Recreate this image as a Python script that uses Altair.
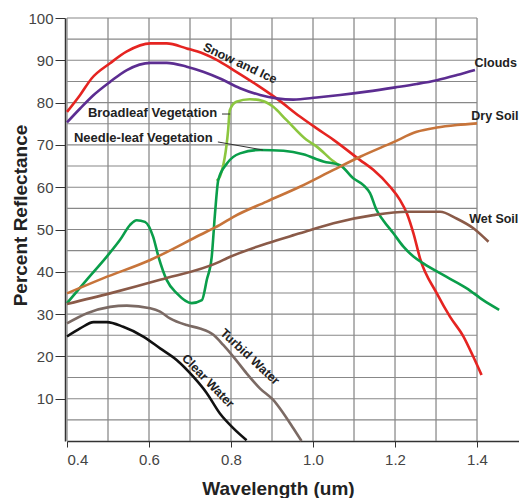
import altair as alt
import pandas as pd

# ---------------- data ----------------
snow_wl = [0.400, 0.432, 0.460, 0.505, 0.546, 0.604, 0.643, 0.692, 0.732, 0.765,
           0.806, 0.863, 0.911, 0.968, 1.009, 1.050, 1.115, 1.147, 1.188, 1.212,
           1.229, 1.245, 1.261, 1.302, 1.334, 1.367, 1.391, 1.411]
snow_r = [77.8, 81.8, 85.7, 89.3, 92.1, 94.0, 94.0, 92.8, 91.6, 90.1,
          87.7, 84.2, 81.0, 76.7, 73.9, 71.2, 66.4, 64.1, 60.1, 57.0,
          53.8, 49.1, 43.2, 34.9, 29.4, 24.7, 19.9, 15.6]

cloud_wl = [0.400, 0.432, 0.465, 0.505, 0.546, 0.604, 0.643, 0.692, 0.732, 0.773,
            0.822, 0.871, 0.911, 0.952, 1.009, 1.066, 1.131, 1.201, 1.253, 1.302,
            1.351, 1.395]
cloud_r = [75.3, 78.6, 81.8, 84.9, 87.7, 89.4, 89.4, 88.5, 87.3, 85.7,
           83.4, 81.8, 81.0, 80.7, 81.2, 81.8, 82.6, 83.6, 84.4, 85.3,
           86.5, 87.7]

broad_wl = [0.765, 0.773, 0.793, 0.797, 0.813, 0.846, 0.878, 0.903, 0.935, 0.984,
            1.009, 1.050, 1.066]
broad_r = [61.5, 62.5, 73.5, 78.2, 80.2, 80.8, 80.4, 79.0, 75.9, 71.2,
           69.6, 66.1, 65.0]

needle_wl = [0.400, 0.448, 0.497, 0.529, 0.554, 0.570, 0.590, 0.610, 0.623, 0.643,
             0.668, 0.704, 0.729, 0.741, 0.753, 0.761, 0.769, 0.790, 0.822, 0.871,
             0.928, 0.976, 1.025, 1.066, 1.098, 1.123, 1.139, 1.155, 1.171, 1.196,
             1.220, 1.245, 1.269, 1.326, 1.375, 1.415, 1.454]
needle_r = [32.6, 38.1, 43.6, 47.5, 51.1, 52.2, 51.8, 48.3, 43.6, 38.1,
            34.9, 32.6, 33.3, 38.1, 43.6, 53.8, 61.7, 65.6, 68.0, 68.8,
            68.6, 67.8, 66.1, 65.2, 62.1, 60.5, 58.6, 54.6, 52.2, 49.1,
            46.0, 43.6, 42.0, 38.8, 36.1, 33.3, 31.0]

dry_wl = [0.400, 0.489, 0.603, 0.724, 0.773, 0.806, 0.887, 0.968, 1.050, 1.115,
          1.195, 1.253, 1.302, 1.351, 1.400]
dry_r = [34.9, 38.5, 42.8, 48.7, 51.1, 53.0, 56.6, 60.1, 64.1, 67.2,
         70.6, 73.1, 74.1, 74.7, 75.1]

wet_wl = [0.400, 0.505, 0.627, 0.773, 0.790, 0.887, 0.968, 1.050, 1.147, 1.229,
          1.310, 1.350, 1.391, 1.428]
wet_r = [32.4, 34.9, 38.1, 42.4, 43.2, 46.7, 49.1, 51.5, 53.4, 54.2,
         54.2, 52.6, 50.3, 47.1]

turbid_wl = [0.400, 0.449, 0.505, 0.546, 0.603, 0.627, 0.651, 0.692, 0.724, 0.757,
             0.781, 0.806, 0.838, 0.871, 0.903, 0.928, 0.952, 0.972]
turbid_r = [27.8, 30.2, 31.7, 32.0, 31.4, 30.6, 29.0, 27.4, 26.6, 25.1,
            22.7, 19.9, 16.0, 12.4, 9.7, 6.5, 3.0, 0.0]

clear_wl = [0.400, 0.432, 0.465, 0.497, 0.537, 0.586, 0.627, 0.668, 0.708, 0.741,
            0.773, 0.806, 0.838]
clear_r = [24.7, 26.6, 28.1, 28.1, 27.0, 24.7, 21.9, 19.1, 15.2, 11.3,
           6.5, 3.0, 0.2]

series_names = ["Snow and Ice", "Clouds", "Broadleaf Vegetation", "Needle-leaf Vegetation",
                "Dry Soil", "Wet Soil", "Turbid Water", "Clear Water"]
series_colors = ["#e52421", "#5c2d91", "#8cc63f", "#0a9e4a",
                 "#c7743a", "#8a5a48", "#7b6a64", "#111111"]
series_data = [(snow_wl, snow_r), (cloud_wl, cloud_r), (broad_wl, broad_r),
               (needle_wl, needle_r), (dry_wl, dry_r), (wet_wl, wet_r),
               (turbid_wl, turbid_r), (clear_wl, clear_r)]

x_ticks = [0.4, 0.6, 0.8, 1.0, 1.2, 1.4]
y_ticks = [10, 20, 30, 40, 50, 60, 70, 80, 90, 100]
grid_x = [0.4, 0.5, 0.6, 0.7, 0.8, 0.9, 1.0, 1.1, 1.2, 1.3, 1.4]
grid_y = [5, 10, 15, 20, 25, 30, 35, 40, 45, 50, 55, 60, 65, 70, 75, 80, 85, 90, 95, 100]

# labels at the right edge: text, wavelength, reflectance
edge_labels = [("Clouds", 1.394, 89.4), ("Dry Soil", 1.386, 76.8), ("Wet Soil", 1.381, 52.6)]
# labels in the plot: text, wavelength, reflectance
flat_labels = [("Broadleaf Vegetation", 0.451, 77.5), ("Needle-leaf Vegetation", 0.417, 71.6)]
# rotated labels: text, wavelength, reflectance, angle
rot_labels = [("Snow and Ice", 0.822, 89.3, 25), ("Turbid Water", 0.846, 19.9, 43),
              ("Clear Water", 0.744, 14.2, 46)]
# leader lines: wl1, r1, wl2, r2
leaders = [(0.778, 77.3, 0.798, 77.3), (0.768, 70.7, 0.878, 68.8)]

# ---------------- build tables ----------------
rows = []
for name, (xs, ys) in zip(series_names, series_data):
    for i, (xv, yv) in enumerate(zip(xs, ys)):
        rows.append({"series": name, "wl": xv, "refl": yv, "i": i})
df = pd.DataFrame(rows)

FONT = "Liberation Sans"
xscale = alt.Scale(domain=[0.4, 1.5024], nice=False, zero=False)
yscale = alt.Scale(domain=[0, 100], nice=False, zero=False)

xaxis = alt.Axis(values=x_ticks, format=".1f", grid=False, title="Wavelength (um)",
                 titleFont=FONT, titleFontSize=19, titleFontWeight="bold", titleColor="#222",
                 titleX=211, titleY=47, titleBaseline="middle",
                 labelFont=FONT, labelFontSize=15, labelColor="#444", labelPadding=5,
                 tickSize=6, tickColor="#333", domainColor="#333", domainWidth=1.5)
yaxis = alt.Axis(values=y_ticks, grid=False, title="Percent Reflectance",
                 titleFont=FONT, titleFontSize=19, titleFontWeight="bold", titleColor="#222",
                 titleX=-45, titleY=197, titleAlign="center", titleBaseline="middle",
                 labelFont=FONT, labelFontSize=15, labelColor="#444", labelPadding=2,
                 tickSize=10, tickColor="#333", domainColor="#333", domainWidth=1.5, offset=2)

X = lambda f: alt.X(f, type="quantitative", scale=xscale, axis=xaxis)
Y = lambda f: alt.Y(f, type="quantitative", scale=yscale, axis=yaxis)

vgrid = alt.Chart(pd.DataFrame({"gx": grid_x, "y0": 0, "y1": 100})).mark_rule(
    color="#777", strokeWidth=1.1).encode(x=X("gx"), y=Y("y0"), y2="y1:Q")
hgrid = alt.Chart(pd.DataFrame({"gy": grid_y, "x0": 0.4, "x1": 1.4})).mark_rule(
    color="#888", strokeWidth=1.1).encode(y=Y("gy"), x=X("x0"), x2="x1:Q")

lines = alt.Chart(df).mark_line(strokeWidth=2.6, interpolate="monotone").encode(
    x=X("wl"), y=Y("refl"),
    color=alt.Color("series:N", scale=alt.Scale(domain=series_names, range=series_colors), legend=None),
    order="i:Q")

lead_df = pd.DataFrame(leaders, columns=["a", "b", "c", "d"])
lead = alt.Chart(lead_df).mark_rule(color="#333", strokeWidth=1).encode(
    x=X("a"), y=Y("b"), x2="c:Q", y2="d:Q")

flat_df = pd.DataFrame(flat_labels, columns=["t", "wl", "refl"])
flat = alt.Chart(flat_df).mark_text(font=FONT, fontSize=13, fontWeight="bold", color="#222",
                                    align="left", baseline="middle").encode(
    x=X("wl"), y=Y("refl"), text="t:N")

edge_df = pd.DataFrame(edge_labels, columns=["t", "wl", "refl"])
edge = alt.Chart(edge_df).mark_text(font=FONT, fontSize=12.5, fontWeight="bold", color="#222",
                                    align="left", baseline="middle").encode(
    x=X("wl"), y=Y("refl"), text="t:N")

rot_layers = []
for t, wl, r, ang in rot_labels:
    d = pd.DataFrame({"t": [t], "wl": [wl], "refl": [r]})
    rot_layers.append(alt.Chart(d).mark_text(font=FONT, fontSize=12.5, fontWeight="bold",
                                             color="#222", align="center", baseline="middle",
                                             angle=ang).encode(x=X("wl"), y=Y("refl"), text="t:N"))

chart = alt.layer(vgrid, hgrid, lines, lead, flat, edge, *rot_layers).properties(
    width=452, height=423,
    autosize=alt.AutoSizeParams(type="none"),
    padding={"left": 59, "top": 10, "right": 0, "bottom": 57},
    background="white",
).configure_view(stroke=None)

chart.save("out.html", embed_options={"renderer": "svg", "actions": False})
